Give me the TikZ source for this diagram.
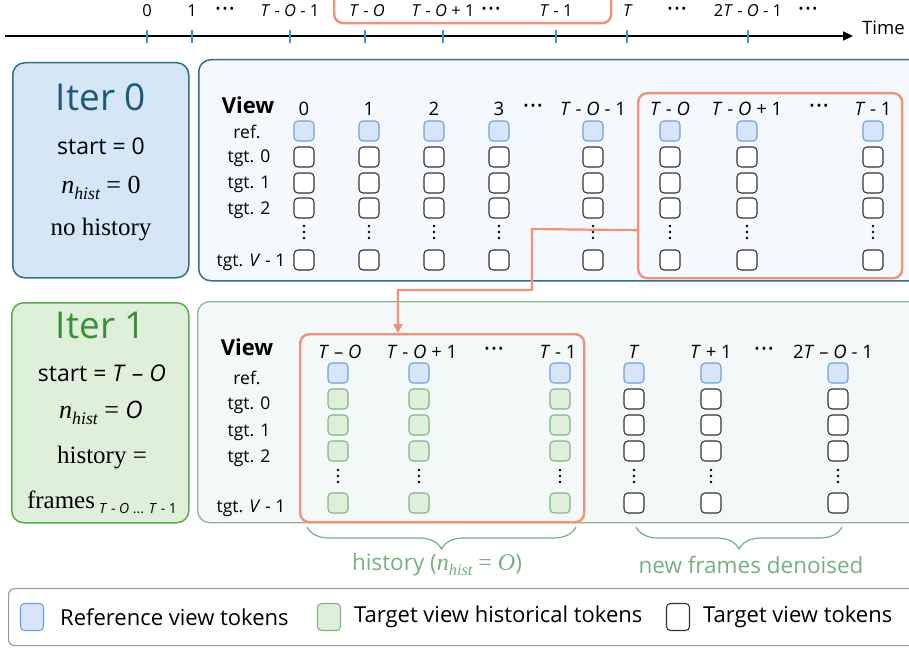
\documentclass[tikz,border=0pt]{standalone}
\usepackage{fontspec}
\usepackage{anyfontsize}
\setmainfont{Liberation Serif}
\setsansfont{Open Sans}
\usetikzlibrary{arrows.meta,decorations.pathreplacing,calc}
\definecolor{orangeln}{HTML}{F2917B}
\definecolor{reffill}{HTML}{D6E6F8}
\definecolor{refborder}{HTML}{6E9FE6}
\definecolor{histfill}{HTML}{DFF0DA}
\definecolor{histborder}{HTML}{80B583}
\definecolor{tgtborder}{HTML}{333333}
\definecolor{pblue}{HTML}{2E6F8E}
\definecolor{pbluefill}{HTML}{F5F9FE}
\definecolor{iterbluefill}{HTML}{D5E6F6}
\definecolor{iterbluetext}{HTML}{1D5A78}
\definecolor{itergreenfill}{HTML}{DEF0DA}
\definecolor{itergreenborder}{HTML}{5CAA4E}
\definecolor{itergreentext}{HTML}{3E8E38}
\definecolor{pgreen}{HTML}{88B893}
\definecolor{pgreenfill}{HTML}{F4F8F9}
\definecolor{bracegreen}{HTML}{76AF80}
\definecolor{tickblue}{HTML}{3A9AD0}
\definecolor{legborder}{HTML}{9A9A9A}
\newcommand{\tT}{\textit{T}}
\newcommand{\tO}{\textit{O}}
\newcommand{\fs}[1]{\fontsize{#1}{#1}\selectfont}
\newcommand{\hdd}{{\fs{13}\raisebox{1pt}{•\hspace{2pt}•\hspace{2pt}•}}}
\makeatletter
\newcommand{\nh}[2]{{\rmfamily\itshape\fs{#1}n\raisebox{-#2pt}{\fs{\strip@pt\dimexpr 0.68\dimexpr#1pt\relax\relax}hist}}}
\makeatother
\tikzset{
  sq/.style={draw, rounded corners=4pt, minimum width=20pt, minimum height=20pt, inner sep=0pt, line width=1.1pt},
  refsq/.style={sq, draw=refborder, fill=reffill},
  histsq/.style={sq, draw=histborder, fill=histfill},
  tgtsq/.style={sq, draw=tgtborder, fill=white},
  lab/.style={font=\sffamily\fs{17.5}, inner sep=0pt},
  collab/.style={font=\sffamily\fs{18.5}, inner sep=0pt},
  tllab/.style={font=\sffamily\fs{16.5}, inner sep=0pt},
  legtext/.style={font=\sffamily\fs{22}, anchor=west, inner sep=0pt},
  orangebox/.style={draw=orangeln, line width=2.4pt, rounded corners=9pt, inner sep=0pt, anchor=north west},
  conn/.style={draw=orangeln, line width=2.2pt, -{Triangle[length=9pt,width=9pt]}},
  tick/.style={draw=tickblue, line width=1.1pt},
  dotc/.style={fill=black, draw=none},
}
\begin{document}
\begin{tikzpicture}[x=1pt,y=-1pt]
\useasboundingbox (0,0) rectangle (909,647);
\clip (0,0) rectangle (909,647);

% ---------- timeline ----------
\coordinate (tlstart) at (5,36);
\coordinate (tlend) at (853,36);
\draw[line width=2.2pt, -{Triangle[length=10pt,width=9pt]}] (tlstart) -- (tlend);
\node[font=\sffamily\fs{18.5}, anchor=west, inner sep=0pt] (time) at (862,28) {Time};
\foreach \x in {147,192,290,365,443,556,627,748} \draw[tick] (\x,30) -- (\x,43);
\node[tllab] (t0) at (147,11) {0};
\node[tllab] (t1) at (192,11) {1};
\node[tllab] (td1) at (225,11) {\hdd};
\node[tllab] (t2) at (290,11) {\tT\ - \tO\ - 1};
\node[tllab] (t3) at (367,11) {\tT\ - \tO};
\node[tllab] (t4) at (443,11) {\tT\ - \tO\ + 1};
\node[tllab] (td2) at (491,11) {\hdd};
\node[tllab] (t5) at (556,11) {\tT\ - 1};
\node[tllab] (t6) at (628,11) {\tT};
\node[tllab] (td3) at (677,11) {\hdd};
\node[tllab] (t7) at (748,11) {2\tT\ - \tO\ - 1};
\node[tllab] (td4) at (808,11) {\hdd};
\node[orangebox, minimum width=277pt, minimum height=34pt] (obtop) at (333,-12) {};

% ---------- Iter 0 ----------
\node[draw=pblue, fill=iterbluefill, line width=1.5pt, rounded corners=12pt, minimum width=176pt, minimum height=215pt, anchor=north west] (iter0) at (12,62) {};
\node[font=\sffamily\fs{37}, text=iterbluetext, inner sep=0pt] (it0t) at (101,97) {Iter 0};
\node[font=\sffamily\fs{23}, inner sep=0pt] (it0s) at (101,146) {start = 0};
\node[font=\rmfamily\fs{26}, inner sep=0pt] (it0n) at (101,188) {\nh{26}{6} = 0};
\node[font=\rmfamily\fs{25}, inner sep=0pt] (it0h) at (101,230) {no history};

% ---------- panel 1 ----------
\node[draw=pblue, fill=pbluefill, line width=1.5pt, rounded corners=12pt, minimum width=740pt, minimum height=221pt, anchor=north west] (panel1) at (198,59) {};
\node[font=\sffamily\bfseries\fs{22}, inner sep=0pt] (v1) at (248,105) {View};
\node[lab] (r1a) at (247,132) {ref.};
\node[lab] (r1b) at (249,158) {tgt. 0};
\node[lab] (r1c) at (249,184) {tgt. 1};
\node[lab] (r1d) at (249,210) {tgt. 2};
\node[lab] (r1e) at (251,262) {tgt. \textit{V} - 1};
\foreach \x [count=\i] in {304,369,434,499,593,670,747,873} {
  \node[refsq] (a\i r) at (\x,131) {};
  \node[tgtsq] (a\i a) at (\x,157) {};
  \node[tgtsq] (a\i b) at (\x,183) {};
  \node[tgtsq] (a\i c) at (\x,208) {};
  \foreach \dy in {-6,0,6} \fill[dotc] (\x,232+\dy) circle (1.4pt);
  \node[tgtsq] (a\i e) at (\x,260) {};
}
\node[collab] (c1a) at (304,109) {0};
\node[collab] (c1b) at (369,109) {1};
\node[collab] (c1c) at (434,109) {2};
\node[collab] (c1d) at (499,109) {3};
\node[collab] (c1dd) at (533,108) {\hdd};
\node[collab] (c1e) at (593,109) {\tT\ - \tO\ - 1};
\node[collab] (c1f) at (670,109) {\tT\ - \tO};
\node[collab] (c1g) at (747,109) {\tT\ - \tO\ + 1};
\node[collab] (c1gd) at (819,108) {\hdd};
\node[collab] (c1h) at (873,109) {\tT\ - 1};
\node[orangebox, minimum width=264pt, minimum height=185pt] (ob1) at (637,92) {};

% ---------- Iter 1 ----------
\node[draw=itergreenborder, fill=itergreenfill, line width=1.5pt, rounded corners=12pt, minimum width=177pt, minimum height=220pt, anchor=north west] (iter1) at (11,302) {};
\node[font=\sffamily\fs{37}, text=itergreentext, inner sep=0pt] (it1t) at (101,325) {Iter 1};
\node[font=\sffamily\fs{23}, inner sep=0pt] (it1s) at (102,373) {start = \tT\ -- \tO};
\node[font=\rmfamily\fs{26}, inner sep=0pt] (it1n) at (101,413) {\nh{26}{6} = {\sffamily\itshape\fs{24}O}};
\node[font=\rmfamily\fs{25}, inner sep=0pt] (it1h) at (102,458) {history =};
\node[font=\rmfamily\fs{25}, inner sep=0pt] (it1f) at (102,502) {frames\,\raisebox{-5pt}{\sffamily\fs{14}\tT\ - \tO\ ... \tT\ - 1}};

% ---------- panel 2 ----------
\node[draw=pgreen, fill=pgreenfill, line width=1.3pt, rounded corners=12pt, minimum width=740pt, minimum height=221pt, anchor=north west] (panel2) at (197,301) {};
\node[font=\sffamily\bfseries\fs{22}, inner sep=0pt] (v2) at (247,347) {View};
\node[lab] (r2a) at (247,378) {ref.};
\node[lab] (r2b) at (249,405) {tgt. 0};
\node[lab] (r2c) at (249,432) {tgt. 1};
\node[lab] (r2d) at (249,458) {tgt. 2};
\node[lab] (r2e) at (251,508) {tgt. \textit{V} - 1};
\foreach \x/\st [count=\i] in {338/histsq,419/histsq,560/histsq,634/tgtsq,711/tgtsq,838/tgtsq} {
  \node[refsq] (b\i r) at (\x,373) {};
  \node[\st] (b\i a) at (\x,399) {};
  \node[\st] (b\i b) at (\x,425) {};
  \node[\st] (b\i c) at (\x,451) {};
  \foreach \dy in {-6,0,6} \fill[dotc] (\x,476+\dy) circle (1.4pt);
  \node[\st] (b\i e) at (\x,503) {};
}
\node[collab] (c2a) at (340,352) {\tT\ -- \tO};
\node[collab] (c2b) at (422,352) {\tT\ - \tO\ + 1};
\node[collab] (c2bd) at (494,351) {\hdd};
\node[collab] (c2c) at (558,352) {\tT\ - 1};
\node[collab] (c2d) at (634,352) {\tT};
\node[collab] (c2e) at (711,352) {\tT\ + 1};
\node[collab] (c2ed) at (764,351) {\hdd};
\node[collab] (c2f) at (833,352) {2\tT\ -- \tO\ - 1};
\node[orangebox, minimum width=284pt, minimum height=188pt] (ob2) at (299,333) {};

% ---------- connector ----------
\coordinate (k1) at (532,229);
\coordinate (k2) at (532,290);
\coordinate (k3) at (398,290);
\draw[conn] ([yshift=-44.5pt]ob1.west) -- (k1) -- (k2) -- (k3) -- ([xshift=99pt]ob2.north west);

% ---------- braces ----------
\coordinate (br1r) at (576,527);
\coordinate (br1l) at (307,527);
\coordinate (br2r) at (842,527);
\coordinate (br2l) at (636,527);
\draw[bracegreen, line width=1.2pt, decorate, decoration={brace, amplitude=22pt}] (br1r) -- (br1l);
\draw[bracegreen, line width=1.2pt, decorate, decoration={brace, amplitude=22pt}] (br2r) -- (br2l);
\node[font=\sffamily\fs{22.5}, text=bracegreen, inner sep=0pt] (hl) at (437,565) {history ({\rmfamily\fs{24}\nh{24}{5} = \textit{O}})};
\node[font=\sffamily\fs{22.5}, text=bracegreen, inner sep=0pt] (nl) at (751,565) {new frames denoised};

% ---------- legend ----------
\node[draw=legborder, line width=1.2pt, rounded corners=6pt, minimum width=930pt, minimum height=57pt, anchor=north west] (legend) at (8,588) {};
\node[refsq, minimum width=23pt, minimum height=27pt] (lg1) at (32,617) {};
\node[legtext] (lt1) at (60,617) {Reference view tokens};
\node[histsq, minimum width=23pt, minimum height=27pt] (lg2) at (329,617) {};
\node[legtext] (lt2) at (354,617) {Target view historical tokens};
\node[tgtsq, minimum width=23pt, minimum height=27pt] (lg3) at (678,617) {};
\node[legtext] (lt3) at (703,617) {Target view tokens};
\end{tikzpicture}
\end{document}
